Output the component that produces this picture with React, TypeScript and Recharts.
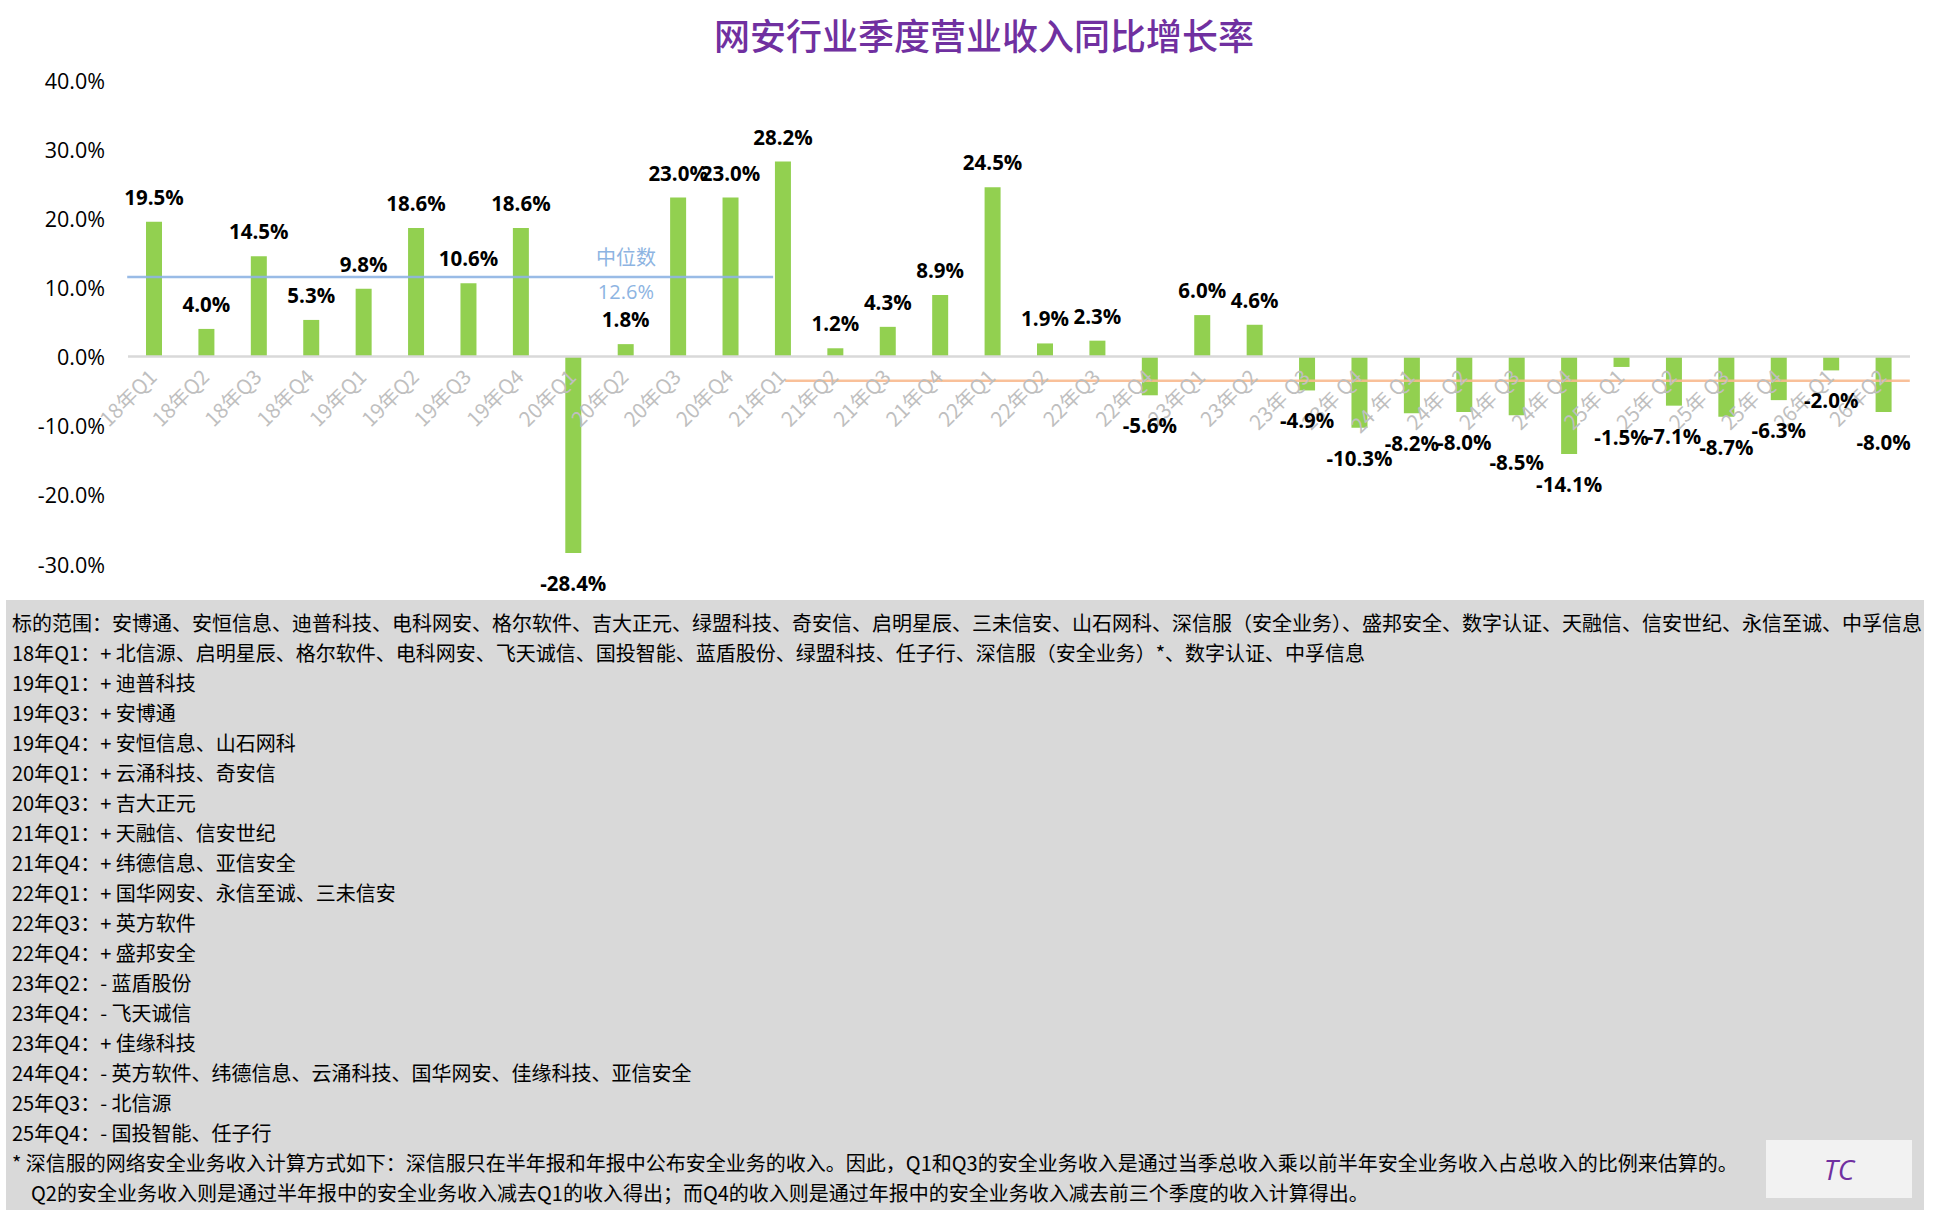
import React from "react";
import {
  BarChart,
  Bar,
  XAxis,
  YAxis,
  ReferenceLine,
  ReferenceDot,
  LabelList,
} from "recharts";

const quarters = [
  "18年Q1", "18年Q2", "18年Q3", "18年Q4",
  "19年Q1", "19年Q2", "19年Q3", "19年Q4",
  "20年Q1", "20年Q2", "20年Q3", "20年Q4",
  "21年Q1", "21年Q2", "21年Q3", "21年Q4",
  "22年Q1", "22年Q2", "22年Q3", "22年Q4",
  "23年Q1", "23年Q2", "23年 Q3", "23年 Q4",
  "24 年 Q1", "24年 Q2", "24年 Q3", "24年 Q4",
  "25年 Q1", "25年 Q2", "25年 Q3", "25年 Q4",
  "26年 Q1", "26年Q2",
];

const growth = [
  19.5, 4.0, 14.5, 5.3,
  9.8, 18.6, 10.6, 18.6,
  -28.4, 1.8, 23.0, 23.0,
  28.2, 1.2, 4.3, 8.9,
  24.5, 1.9, 2.3, -5.6,
  6.0, 4.6, -4.9, -10.3,
  -8.2, -8.0, -8.5, -14.1,
  -1.5, -7.1, -8.7, -6.3,
  -2.0, -8.0,
];

const yTicks = [-30, -20, -10, 0, 10, 20, 30, 40];

// median lines: the blue one is drawn a bit below its printed value in the source
const medianEarly = { from: "18年Q1", to: "21年Q1", level: 11.5, text: "12.6%", at: "20年Q2" };
const medianLate = { from: "21年Q1", to: "26年Q2", level: -3.5, text: "-3.5%", at: "25年Q2" };

// a couple of labels were pushed down by hand in the original to dodge the axis text
const labelNudge: Record<string, number> = { "24年 Q3": 17, "25年 Q1": 40 };

const notes = [
  "标的范围：安博通、安恒信息、迪普科技、电科网安、格尔软件、吉大正元、绿盟科技、奇安信、启明星辰、三未信安、山石网科、深信服（安全业务）、盛邦安全、数字认证、天融信、信安世纪、永信至诚、中孚信息",
  "18年Q1：+ 北信源、启明星辰、格尔软件、电科网安、飞天诚信、国投智能、蓝盾股份、绿盟科技、任子行、深信服（安全业务）*、数字认证、中孚信息",
  "19年Q1：+ 迪普科技",
  "19年Q3：+ 安博通",
  "19年Q4：+ 安恒信息、山石网科",
  "20年Q1：+ 云涌科技、奇安信",
  "20年Q3：+ 吉大正元",
  "21年Q1：+ 天融信、信安世纪",
  "21年Q4：+ 纬德信息、亚信安全",
  "22年Q1：+ 国华网安、永信至诚、三未信安",
  "22年Q3：+ 英方软件",
  "22年Q4：+ 盛邦安全",
  "23年Q2：- 蓝盾股份",
  "23年Q4：- 飞天诚信",
  "23年Q4：+ 佳缘科技",
  "24年Q4：- 英方软件、纬德信息、云涌科技、国华网安、佳缘科技、亚信安全",
  "25年Q3：- 北信源",
  "25年Q4：- 国投智能、任子行",
];

const footnote = [
  "* 深信服的网络安全业务收入计算方式如下：深信服只在半年报和年报中公布安全业务的收入。因此，Q1和Q3的安全业务收入是通过当季总收入乘以前半年安全业务收入占总收入的比例来估算的。",
  "Q2的安全业务收入则是通过半年报中的安全业务收入减去Q1的收入得出；而Q4的收入则是通过年报中的安全业务收入减去前三个季度的收入计算得出。",
];

const data = quarters.map((q, i) => ({ q, v: growth[i] }));

const CJK = '"Noto Sans CJK SC", "Noto Sans", sans-serif';
const LATIN = '"Open Sans", "Noto Sans CJK SC", sans-serif';

const W = 1934;
const H = 600;
const M = { top: 80, right: 24, bottom: 6, left: 68 };
const Y_MIN = -30;
const Y_MAX = 40;
const PLOT_H = H - M.top - M.bottom - 30;
const ZERO_Y = M.top + (PLOT_H * Y_MAX) / (Y_MAX - Y_MIN);

const XTick = ({ x, payload }: any) => {
  const ax = x + 4;
  const ay = ZERO_Y + 22;
  return (
    <text
      x={ax}
      y={ay}
      textAnchor="end"
      fill="#bfbfbf"
      fontSize={20.5}
      fontFamily={CJK}
      transform={`rotate(-45, ${ax}, ${ay})`}
    >
      {payload.value}
    </text>
  );
};

const YTick = ({ x, y, payload }: any) => (
  <text x={x} y={y} textAnchor="end" dominantBaseline="central" fill="#000" fontSize={21.5} fontFamily={LATIN}>
    {payload.value.toFixed(1)}%
  </text>
);

const barLabel = (props: any) => {
  const vb = props.viewBox || props;
  const { x, y, width, height } = vb;
  const value = Number(props.value);
  const cat = quarters[props.index] ?? "";
  const top = Math.min(y, y + height);
  const bottom = Math.max(y, y + height);
  const ty = value >= 0 ? top - 25 : bottom + 30 + (labelNudge[cat] || 0);
  return (
    <text
      x={x + width / 2}
      y={ty}
      textAnchor="middle"
      dominantBaseline="central"
      fill="#000"
      fontSize={20.5}
      fontWeight="bold"
      fontFamily={LATIN}
    >
      {value.toFixed(1)}%
    </text>
  );
};

const segShape = (dx1: number, dx2: number, color: string) => (p: any) => (
  <line x1={p.x1 + dx1} y1={p.y1} x2={p.x2 + dx2} y2={p.y2} stroke={color} strokeWidth={2.4} strokeOpacity={0.9} />
);

const dotLabel = (text: string, color: string, font: string) => ({
  value: text,
  position: "center" as const,
  fill: color,
  fontSize: 20,
  fontFamily: font,
});

export default function App() {
  return (
    <div style={{ position: "absolute", left: 0, top: 0, width: W, height: 1212, background: "#fff", overflow: "hidden" }}>
      <div
        style={{
          position: "absolute",
          left: 984,
          top: 14,
          transform: "translateX(-50%)",
          whiteSpace: "nowrap",
          fontFamily: CJK,
          fontSize: 36,
          fontWeight: 500,
          lineHeight: "40px",
          color: "#7030a0",
        }}
      >
        网安行业季度营业收入同比增长率
      </div>

      <div style={{ position: "absolute", left: 0, top: 0 }}>
        <BarChart width={W} height={H} data={data} margin={M}>
          <XAxis dataKey="q" interval={0} height={30} axisLine={false} tickLine={false} tick={<XTick />} />
          <YAxis
            width={60}
            domain={[Y_MIN, Y_MAX]}
            ticks={yTicks}
            axisLine={false}
            tickLine={false}
            tickSize={0}
            tickMargin={23}
            tick={<YTick />}
          />
          <Bar dataKey="v" fill="#92d050" barSize={16} isAnimationActive={false}>
            <LabelList dataKey="v" content={barLabel} />
          </Bar>
          <ReferenceLine y={0} stroke="#d9d9d9" strokeWidth={2.5} />
          <ReferenceLine
            segment={[
              { x: medianEarly.from, y: medianEarly.level },
              { x: medianEarly.to, y: medianEarly.level },
            ]}
            shape={segShape(-27, -10, "#8eb4e3")}
          />
          <ReferenceLine
            segment={[
              { x: medianLate.from, y: medianLate.level },
              { x: medianLate.to, y: medianLate.level },
            ]}
            shape={segShape(2, 26, "#f8b98e")}
          />
          <ReferenceDot x={medianEarly.at} y={14.3} r={0} fill="none" stroke="none" label={dotLabel("中位数", "#8db4e2", CJK)} />
          <ReferenceDot x={medianEarly.at} y={9.4} r={0} fill="none" stroke="none" label={dotLabel(medianEarly.text, "#8db4e2", LATIN)} />
          <ReferenceDot x={medianLate.at} y={7.9} r={0} fill="none" stroke="none" label={dotLabel("中位数", "#f79646", CJK)} />
          <ReferenceDot x={medianLate.at} y={2.8} r={0} fill="none" stroke="none" label={dotLabel(medianLate.text, "#f79646", LATIN)} />
        </BarChart>
      </div>

      <div
        style={{
          position: "absolute",
          left: 6,
          top: 600,
          width: 1918,
          height: 610,
          background: "#d9d9d9",
          boxSizing: "border-box",
          padding: "8px 0 0 6px",
          fontFamily: CJK,
          fontSize: 20,
          lineHeight: "30px",
          color: "#000",
          whiteSpace: "nowrap",
        }}
      >
        {notes.map((t, i) => (
          <div key={i}>{t}</div>
        ))}
        <div>{footnote[0]}</div>
        <div style={{ paddingLeft: 19 }}>{footnote[1]}</div>
      </div>

      <div
        style={{
          position: "absolute",
          left: 1766,
          top: 1140,
          width: 146,
          height: 58,
          background: "#f2f2f2",
          display: "flex",
          alignItems: "center",
          justifyContent: "center",
          fontFamily: LATIN,
          fontStyle: "italic",
          fontSize: 28,
          color: "#7030a0",
        }}
      >
        TC
      </div>
    </div>
  );
}
